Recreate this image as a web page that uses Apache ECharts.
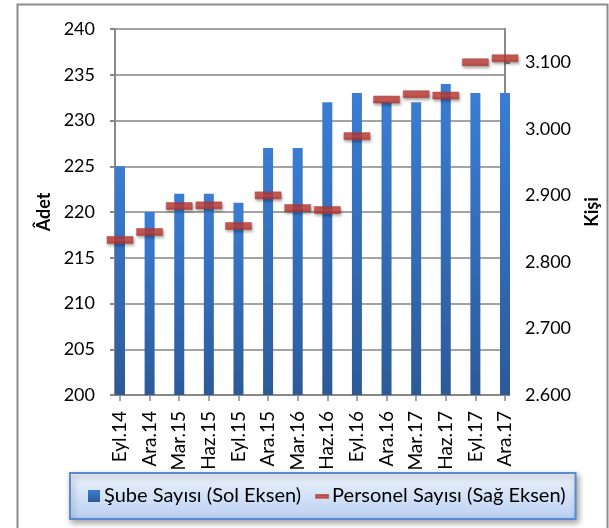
<!DOCTYPE html>
<html>
<head>
<meta charset="utf-8">
<script src="https://cdn.jsdelivr.net/npm/echarts@6/dist/echarts.min.js"></script>
<style>
html,body{margin:0;padding:0;background:#fff;}
#chart{width:609px;height:528px;}
</style>
</head>
<body>
<div id="chart"></div>
<script>
// ---- data ----
var categories = ['Eyl.14','Ara.14','Mar.15','Haz.15','Eyl.15','Ara.15','Mar.16','Haz.16','Eyl.16','Ara.16','Mar.17','Haz.17','Eyl.17','Ara.17'];
var subeSayisi = [225, 220, 222, 222, 221, 227, 227, 232, 233, 232, 232, 234, 233, 233];
var personelSayisi = [2833, 2845, 2884, 2885, 2854, 2900, 2881, 2878, 2989, 3044, 3052, 3050, 3100, 3106];
var leftTicks = [200, 205, 210, 215, 220, 225, 230, 235, 240];
var rightTicks = [2600, 2700, 2800, 2900, 3000, 3100];
var seriesNames = ['Şube Sayısı (Sol Eksen)', 'Personel Sayısı (Sağ Eksen)'];
var axisNames = ['Âdet', 'Kişi'];

var FONT = 'Lato';
var chart = echarts.init(document.getElementById('chart'), null, {renderer: 'canvas'});
var gridCol = '#a3a3a3';
var axisCol = '#888888';

var option = {
  animation: false,
  backgroundColor: '#ffffff',
  textStyle: {fontFamily: FONT, color: '#000'},
  graphic: [{
    type: 'rect', left: 15, top: 2, z: -1,
    shape: {width: 590, height: 560},
    style: {fill: 'none', stroke: '#8c8c8c', lineWidth: 2}
  }],
  grid: [
    {left: 115, right: 99, top: 29, bottom: 133},
    {left: 120, right: 104, top: 29, bottom: 133}
  ],
  xAxis: [
    {
      gridIndex: 0, type: 'category', data: categories, boundaryGap: false,
      axisLine: {show: true, lineStyle: {color: axisCol, width: 2}},
      axisTick: {show: false}, axisLabel: {show: false}, splitLine: {show: false}
    },
    {
      gridIndex: 1, type: 'category', data: categories, boundaryGap: false,
      axisLine: {show: false},
      axisTick: {show: true, length: 6, lineStyle: {color: axisCol, width: 1.5}},
      axisLabel: {rotate: 90, margin: 16, fontSize: 19, color: '#000', fontFamily: FONT, interval: 0},
      splitLine: {show: false}
    }
  ],
  yAxis: [
    {
      gridIndex: 0, type: 'value', min: leftTicks[0], max: leftTicks[leftTicks.length - 1], interval: 5,
      position: 'left',
      name: axisNames[0], nameLocation: 'middle', nameGap: 62, nameRotate: 90,
      nameTextStyle: {fontSize: 18, fontWeight: 'bold', color: '#000', fontFamily: FONT},
      axisLine: {show: true, lineStyle: {color: axisCol, width: 2}},
      axisTick: {show: true, length: 5, lineStyle: {color: axisCol, width: 2}},
      axisLabel: {margin: 20, fontSize: 18, color: '#000', fontFamily: FONT},
      splitLine: {show: true, lineStyle: {color: gridCol, width: 2}}
    },
    {
      gridIndex: 0, type: 'value', min: rightTicks[0], max: 3150, interval: 100,
      position: 'right',
      name: axisNames[1], nameLocation: 'middle', nameGap: 78, nameRotate: 90,
      nameTextStyle: {fontSize: 18, fontWeight: 'bold', color: '#000', fontFamily: FONT},
      axisLine: {show: true, lineStyle: {color: axisCol, width: 2}},
      axisTick: {show: true, length: 5, lineStyle: {color: axisCol, width: 2}, customValues: rightTicks},
      axisLabel: {margin: 20, fontSize: 18, color: '#000', fontFamily: FONT, customValues: rightTicks,
        formatter: function (v) { return (v / 1000).toFixed(3); }},
      splitLine: {show: false}
    },
    {
      gridIndex: 1, type: 'value', min: leftTicks[0], max: leftTicks[leftTicks.length - 1], show: false,
      splitLine: {show: false}
    },
    {
      gridIndex: 1, type: 'value', min: rightTicks[0], max: 3150, show: false,
      splitLine: {show: false}
    }
  ],
  legend: {
    left: 70, top: 473,
    data: [
      {name: seriesNames[0], icon: 'rect'},
      {name: seriesNames[1], icon: 'path://M0,0L0,0M0,12L0,12M0,5L13,5L13,8L0,8Z'}
    ],
    itemWidth: 12, itemHeight: 12, itemGap: 14,
    padding: [13, 10, 13, 18],
    textStyle: {fontSize: 20, color: '#000', fontFamily: FONT, padding: [0, 0, 0, -1]},
    backgroundColor: {
      type: 'linear', x: 0, y: 0, x2: 0, y2: 1,
      colorStops: [{offset: 0, color: '#eef4fc'}, {offset: 1, color: '#b9d0f1'}]
    },
    borderColor: '#5a8bd2', borderWidth: 2, borderRadius: 0,
    shadowBlur: 6, shadowColor: 'rgba(0,0,0,0.35)', shadowOffsetX: 2, shadowOffsetY: 3
  },
  series: [
    {
      name: seriesNames[0], type: 'bar', xAxisIndex: 1, yAxisIndex: 2,
      data: subeSayisi, barWidth: 10,
      itemStyle: {
        color: {
          type: 'linear', x: 0, y: 0, x2: 0, y2: 1, global: false,
          colorStops: [{offset: 0, color: '#3a7dd4'}, {offset: 1, color: '#2c5a98'}]
        }
      }
    },
    {
      name: seriesNames[1], type: 'scatter', xAxisIndex: 1, yAxisIndex: 3,
      data: personelSayisi, symbol: 'rect', symbolSize: [26, 7], z: 5,
      itemStyle: {
        color: {
          type: 'linear', x: 0, y: 0, x2: 0, y2: 1,
          colorStops: [{offset: 0, color: '#b3312c'}, {offset: 0.5, color: '#d0443e'}, {offset: 1, color: '#a92c28'}]
        },
        borderColor: '#b8403b', borderWidth: 0.5,
        shadowBlur: 3, shadowColor: 'rgba(0,0,0,0.4)', shadowOffsetX: 1, shadowOffsetY: 2
      }
    }
  ]
};
chart.setOption(option);
</script>
</body>
</html>
